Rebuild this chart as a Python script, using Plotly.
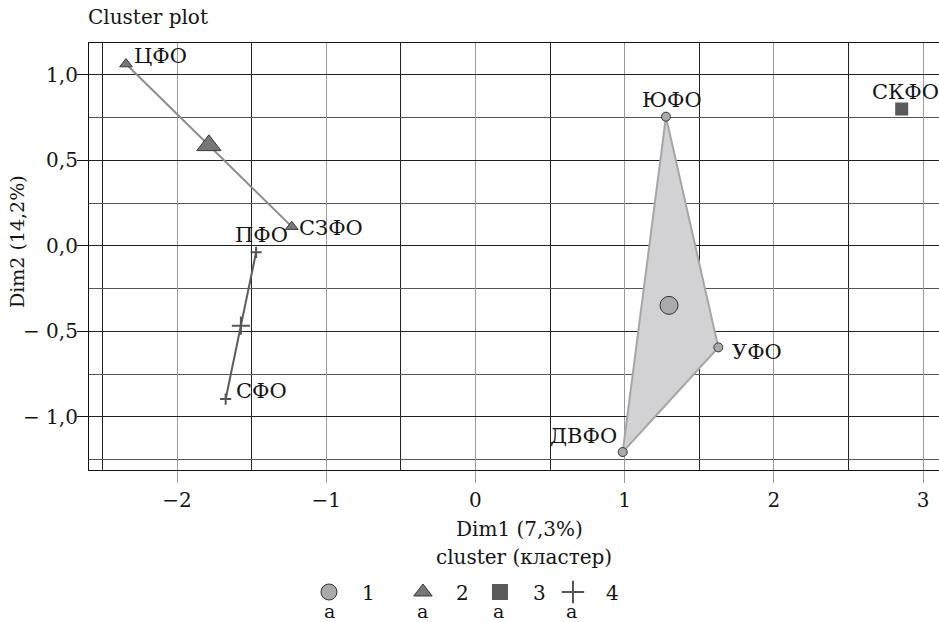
import numpy as np
import plotly.graph_objects as go

# ---- data ----
region = ["ЮФО", "УФО", "ДВФО", "ЦФО", "СЗФО", "СКФО", "ПФО", "СФО"]
dim1 = [1.277, 1.628, 0.987, -2.342, -1.231, 2.857, -1.470, -1.674]
dim2 = [0.756, -0.593, -1.205, 1.064, 0.113, 0.801, -0.037, -0.895]
cluster = [1, 1, 1, 2, 2, 3, 4, 4]
cluster_ids = [1, 2, 3, 4]
cluster_names = ["1", "2", "3", "4"]
x_ticks = [-2, -1, 0, 1, 2, 3]
x_tick_text = ["−2", "−1", "0", "1", "2", "3"]
y_ticks = [1.0, 0.5, 0.0, -0.5, -1.0]
y_tick_text = ["1,0", "0,5", "0,0", "− 0,5", "− 1,0"]

# ---- styles ----
FONT = "DejaVu Serif"
TXT = "#151515"
sym = {1: "circle", 2: "triangle-up", 3: "square", 4: "cross-thin"}
fill = {1: "#aaaaae", 2: "#777777", 3: "#5a5a5a", 4: "#555555"}
edge = {1: "#333333", 2: "#3a3a3a", 3: "#5a5a5a", 4: "#555555"}
edge_w = {1: 1, 2: 1, 3: 0, 4: 2}
pt_size = {1: 9, 2: 11, 3: 9, 4: 8}
cen_size = {1: 18, 2: 21, 3: 13, 4: 13}
leg_width = {1: 23, 2: 6, 3: 2, 4: 20}
hull_line = {1: "#a6a6a6", 2: "#8c8c8c", 3: "#5a5a5a", 4: "#5c5c5c"}
hull_fill = {1: "#d2d2d5"}
# label placement: (xanchor, xshift px, yshift px)
label_style = {"ЮФО": ("center", 6, 17), "УФО": ("left", 12, -5),
               "ДВФО": ("right", -4, 16), "ЦФО": ("left", 6, 8),
               "СЗФО": ("left", 5, -1), "СКФО": ("center", 4, 17),
               "ПФО": ("center", 5, 17), "СФО": ("left", 8, 8)}

x = np.array(dim1)
y = np.array(dim2)
c = np.array(cluster)


def convex_hull(pts):
    pts = sorted(set(pts))
    if len(pts) <= 2:
        return pts

    def cross(o, a, b):
        return (a[0] - o[0]) * (b[1] - o[1]) - (a[1] - o[1]) * (b[0] - o[0])
    lower, upper = [], []
    for p in pts:
        while len(lower) >= 2 and cross(lower[-2], lower[-1], p) <= 0:
            lower.pop()
        lower.append(p)
    for p in reversed(pts):
        while len(upper) >= 2 and cross(upper[-2], upper[-1], p) <= 0:
            upper.pop()
        upper.append(p)
    return lower[:-1] + upper[:-1]


fig = go.Figure()

# hulls
for k in cluster_ids:
    m = c == k
    hull = convex_hull(list(zip(x[m], y[m])))
    if len(hull) < 2:
        continue
    hx = [p[0] for p in hull]
    hy = [p[1] for p in hull]
    if len(hull) >= 3:
        hx.append(hx[0]); hy.append(hy[0])
        fig.add_trace(go.Scatter(x=hx, y=hy, mode="lines", fill="toself",
                                 fillcolor=hull_fill[k],
                                 line=dict(color=hull_line[k], width=2),
                                 showlegend=False, hoverinfo="skip"))
    else:
        fig.add_trace(go.Scatter(x=hx, y=hy, mode="lines",
                                 line=dict(color=hull_line[k], width=2),
                                 showlegend=False, hoverinfo="skip"))

# points and centroids
for k in cluster_ids:
    m = c == k
    fig.add_trace(go.Scatter(
        x=x[m], y=y[m], mode="markers", showlegend=False,
        marker=dict(symbol=sym[k], size=pt_size[k], color=fill[k],
                    line=dict(color=edge[k], width=edge_w[k]))))
    fig.add_trace(go.Scatter(
        x=[x[m].mean()], y=[y[m].mean()], mode="markers", showlegend=False,
        marker=dict(symbol=sym[k], size=cen_size[k], color=fill[k],
                    line=dict(color=edge[k], width=edge_w[k]))))

# point labels
for r, xv, yv in zip(region, dim1, dim2):
    xa, xs, ys = label_style[r]
    fig.add_annotation(x=xv, y=yv, xref="x", yref="y", text=r, showarrow=False,
                       xanchor=xa, yanchor="middle", xshift=xs, yshift=ys,
                       font=dict(family=FONT, size=21, color=TXT))

# legend entries
for k, name in zip(cluster_ids, cluster_names):
    fig.add_trace(go.Scatter(
        x=[None], y=[None], mode="markers", name=name, legendwidth=leg_width[k],
        marker=dict(symbol=sym[k], size=16, color=fill[k],
                    line=dict(color=edge[k], width=edge_w[k]))))

# legend "a" keys below symbols
a_x = [0.2824, 0.3929, 0.4812, 0.5682]
for ax in a_x:
    fig.add_annotation(x=ax, y=-0.3300, xref="paper", yref="paper", text="a",
                       showarrow=False, font=dict(family=FONT, size=19, color=TXT),
                       xanchor="center", yanchor="middle")

fig.add_annotation(x=0.5112, y=-0.2037, xref="paper", yref="paper",
                   text="cluster (кластер)", showarrow=False,
                   xanchor="center", yanchor="middle",
                   font=dict(family=FONT, size=20, color=TXT))
fig.add_annotation(x=0.507, y=-0.138, xref="paper", yref="paper",
                   text="Dim1 (7,3%)", showarrow=False,
                   xanchor="center", yanchor="middle",
                   font=dict(family=FONT, size=20, color=TXT))
fig.add_annotation(x=-0.0847, y=0.534, xref="paper", yref="paper",
                   text="Dim2 (14,2%)", showarrow=False, textangle=-90,
                   xanchor="center", yanchor="middle",
                   font=dict(family=FONT, size=19, color=TXT))
fig.add_annotation(x=-0.0035, y=1.0609, xref="paper", yref="paper",
                   text="Cluster plot", showarrow=False, xanchor="left",
                   yanchor="middle",
                   font=dict(family=FONT, size=20, color=TXT))

fig.update_layout(
    width=939, height=622,
    margin=dict(l=89, r=0, t=43, b=152, autoexpand=False),
    paper_bgcolor="white", plot_bgcolor="white",
    font=dict(family=FONT, size=20, color=TXT),
    legend=dict(orientation="h", x=0.2435, y=-0.2857, xanchor="left",
                yanchor="middle", itemwidth=56,
                font=dict(family=FONT, size=20, color=TXT),
                bgcolor="rgba(0,0,0,0)"),
    xaxis=dict(range=[-2.59, 3.107], tickvals=x_ticks, ticktext=x_tick_text,
               showgrid=True, gridcolor="#9a9a9a", gridwidth=1.2,
               minor=dict(dtick=0.5, tick0=0, showgrid=True, gridcolor="#222222", gridwidth=1),
               ticks="outside", ticklen=12, tickcolor="#9a9a9a", tickwidth=1.2,
               zeroline=False, showline=True, linecolor="#111", linewidth=1.2,
               mirror=True, tickfont=dict(family=FONT, size=20, color=TXT)),
    yaxis=dict(range=[-1.31, 1.187], tickvals=y_ticks, ticktext=y_tick_text,
               showgrid=True, gridcolor="#222222", gridwidth=1,
               minor=dict(dtick=0.25, tick0=0, showgrid=True, gridcolor="#555555", gridwidth=1),
               ticks="outside", ticklen=11, tickcolor="#111", tickwidth=1,
               ticklabelstandoff=-5,
               zeroline=False, showline=True, linecolor="#111", linewidth=1.2,
               mirror=False, tickfont=dict(family=FONT, size=20, color=TXT)),
)

fig.write_html("out.html", config={"displayModeBar": False},
               post_script="document.body.style.margin='0';document.body.style.overflow='hidden';")
